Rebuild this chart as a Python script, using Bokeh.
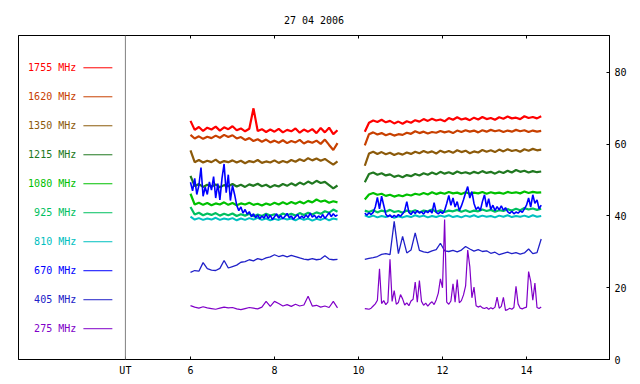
from bokeh.plotting import figure
from bokeh.models import Range1d, LinearAxis, FixedTicker, Span
from bokeh.core.properties import value
from bokeh.embed import file_html
from bokeh.resources import INLINE

# ---------------- data ----------------
title_text = "27 04 2006"
freq_labels = ["1755 MHz", "1620 MHz", "1350 MHz", "1215 MHz", "1080 MHz",
               "925 MHz", "810 MHz", "670 MHz", "405 MHz", "275 MHz"]
colors = ["#ff0000", "#c84000", "#8c5a0a", "#207820", "#00c000",
          "#00c060", "#00c0c0", "#0000ff", "#2020c8", "#8000c8"]
hour_ticks = [6, 8, 10, 12, 14]
level_ticks = [0, 20, 40, 60, 80]
ut_hour = 4.45

t_a = [6.0, 6.1, 6.2, 6.3, 6.4, 6.5, 6.6, 6.7, 6.8, 6.9, 7.0, 7.1, 7.2, 7.3, 7.4, 7.5, 7.6, 7.7,
       7.8, 7.9, 8.0, 8.1, 8.2, 8.3, 8.4, 8.5, 8.6, 8.7, 8.8, 8.9, 9.0, 9.1, 9.2, 9.3, 9.4, 9.5]
t_b = [10.15, 10.25, 10.35, 10.45, 10.55, 10.65, 10.75, 10.85, 10.95, 11.05, 11.15, 11.25,
       11.35, 11.45, 11.55, 11.65, 11.75, 11.85, 11.95, 12.05, 12.15, 12.25, 12.35, 12.45,
       12.55, 12.65, 12.75, 12.85, 12.95, 13.05, 13.15, 13.25, 13.35, 13.45, 13.55, 13.65,
       13.75, 13.85, 13.95, 14.05, 14.15, 14.25, 14.35]
t_af = [6.00, 6.05, 6.10, 6.15, 6.20, 6.25, 6.30, 6.35, 6.40, 6.45,
        6.50, 6.55, 6.60, 6.65, 6.70, 6.75, 6.80, 6.85, 6.90, 6.95,
        7.00, 7.05, 7.10, 7.15, 7.20, 7.25, 7.30, 7.35, 7.40, 7.45,
        7.50, 7.55, 7.60, 7.65, 7.70, 7.75, 7.80, 7.85, 7.90, 7.95,
        8.00, 8.05, 8.10, 8.15, 8.20, 8.25, 8.30, 8.35, 8.40, 8.45,
        8.50, 8.55, 8.60, 8.65, 8.70, 8.75, 8.80, 8.85, 8.90, 8.95,
        9.00, 9.05, 9.10, 9.15, 9.20, 9.25, 9.30, 9.35, 9.40, 9.45,
        9.50]
t_bf = [10.15, 10.20, 10.25, 10.30, 10.35, 10.40, 10.45, 10.50, 10.55, 10.60,
        10.65, 10.70, 10.75, 10.80, 10.85, 10.90, 10.95, 11.00, 11.05, 11.10,
        11.15, 11.20, 11.25, 11.30, 11.35, 11.40, 11.45, 11.50, 11.55, 11.60,
        11.65, 11.70, 11.75, 11.80, 11.85, 11.90, 11.95, 12.00, 12.05, 12.10,
        12.15, 12.20, 12.25, 12.30, 12.35, 12.40, 12.45, 12.50, 12.55, 12.60,
        12.65, 12.70, 12.75, 12.80, 12.85, 12.90, 12.95, 13.00, 13.05, 13.10,
        13.15, 13.20, 13.25, 13.30, 13.35, 13.40, 13.45, 13.50, 13.55, 13.60,
        13.65, 13.70, 13.75, 13.80, 13.85, 13.90, 13.95, 14.00, 14.05, 14.10,
        14.15, 14.20, 14.25, 14.30, 14.35]

f1755_a = [66.5, 64.0, 64.8, 63.7, 64.6, 64.1, 64.9, 63.8, 64.7, 64.2,
           65.0, 63.9, 64.4, 63.6, 64.3, 70.0, 63.7, 64.2, 63.4, 64.1,
           63.5, 64.3, 63.3, 64.0, 63.6, 64.4, 63.2, 64.1, 63.5, 64.2,
           63.1, 64.5, 63.3, 64.6, 62.8, 63.9]
f1755_b = [63.5, 66.0, 66.6, 66.2, 66.8, 66.1, 66.5, 65.8, 66.3, 65.7,
           66.4, 66.0, 66.7, 66.3, 67.0, 66.5, 67.1, 66.6, 66.9, 66.4,
           67.3, 66.8, 67.5, 66.9, 67.2, 66.7, 67.4, 66.9, 67.6, 67.0,
           67.3, 66.8, 67.5, 67.1, 67.7, 67.2, 67.4, 67.0, 67.8, 67.3,
           67.6, 67.2, 67.8]
f1620_a = [62.6, 61.6, 62.2, 61.5, 62.1, 61.7, 62.4, 61.8, 62.6, 62.0,
           62.5, 61.6, 62.0, 61.2, 61.7, 60.9, 61.4, 60.7, 61.3, 60.5,
           61.0, 60.4, 61.1, 60.3, 60.9, 60.5, 61.2, 60.2, 60.8, 60.4,
           61.0, 60.1, 61.3, 59.8, 58.4, 60.3]
f1620_b = [59.7, 62.8, 63.3, 62.7, 63.1, 62.5, 62.9, 62.4, 62.8, 62.6,
           63.2, 62.9, 63.6, 63.1, 63.5, 63.0, 63.4, 63.2, 63.7, 63.3,
           63.6, 63.1, 63.8, 63.4, 63.9, 63.5, 63.8, 63.3, 63.9, 63.5,
           64.0, 63.6, 63.9, 63.4, 63.8, 63.5, 64.0, 63.6, 63.9, 63.4,
           63.8, 63.5, 63.7]
f1350_a = [58.3, 55.0, 55.6, 54.9, 55.4, 55.0, 55.7, 54.8, 55.3, 55.0,
           55.5, 54.9, 55.4, 54.7, 55.3, 55.0, 55.6, 54.8, 55.2, 54.9,
           55.5, 54.8, 55.3, 54.9, 55.6, 55.1, 55.8, 55.3, 56.1, 55.5,
           56.0, 55.4, 55.9, 55.1, 54.3, 55.2]
f1350_b = [54.0, 57.4, 57.9, 57.3, 57.8, 57.2, 57.6, 57.0, 57.5, 57.1,
           57.7, 57.3, 57.9, 57.5, 58.1, 57.6, 58.0, 57.4, 58.2, 57.7,
           58.1, 57.6, 58.3, 57.8, 58.2, 57.5, 58.0, 57.7, 58.4, 57.9,
           58.3, 57.8, 58.5, 58.0, 58.6, 58.1, 58.4, 57.9, 58.6, 58.2,
           58.7, 58.3, 58.5]
f1215_a = [51.2, 48.3, 48.9, 48.1, 48.7, 48.2, 48.8, 48.0, 48.6, 48.3,
           48.9, 48.2, 48.7, 48.1, 48.8, 48.4, 49.0, 48.3, 48.7, 48.0,
           48.6, 48.2, 48.9, 48.4, 49.1, 48.5, 49.3, 48.8, 49.6, 49.0,
           49.8, 49.2, 49.5, 48.6, 47.7, 48.5]
f1215_b = [49.4, 51.7, 52.1, 51.5, 51.9, 51.3, 51.6, 50.9, 51.3, 50.8,
           51.4, 51.1, 51.7, 51.3, 51.9, 51.5, 52.1, 51.6, 52.3, 51.8,
           52.2, 51.7, 52.4, 51.9, 52.2, 51.8, 52.3, 51.9, 52.5, 52.0,
           52.3, 51.8, 52.4, 52.0, 52.6, 52.1, 52.8, 52.3, 52.6, 52.1,
           52.5, 52.2, 52.4]
f1080_a = [46.2, 43.2, 43.7, 43.1, 43.6, 43.0, 43.5, 43.2, 43.8, 43.1,
           43.6, 43.0, 43.5, 43.2, 43.7, 43.1, 43.4, 42.9, 43.5, 43.1,
           43.7, 43.2, 43.8, 43.3, 43.9, 43.4, 44.0, 43.5, 44.2, 43.8,
           44.6, 44.0, 44.3, 43.7, 44.1, 43.8]
f1080_b = [44.6, 46.0, 46.4, 45.9, 46.2, 45.6, 45.9, 45.4, 45.8, 45.5,
           46.0, 45.7, 46.2, 45.9, 46.4, 46.0, 46.6, 46.1, 46.5, 46.2,
           46.7, 46.3, 46.5, 46.1, 46.6, 46.2, 46.5, 46.3, 46.7, 46.2,
           46.6, 46.3, 46.5, 46.2, 46.7, 46.4, 46.6, 46.3, 46.8, 46.4,
           46.7, 46.5, 46.6]
f925_a = [42.5, 40.4, 40.9, 40.2, 40.7, 40.3, 40.8, 40.1, 40.6, 40.2,
          40.7, 40.0, 40.5, 40.1, 40.6, 39.9, 40.4, 40.0, 40.6, 40.1,
          40.5, 40.0, 40.7, 40.2, 40.6, 40.1, 40.8, 40.3, 40.9, 40.4,
          41.0, 40.6, 41.3, 40.9, 41.8, 41.2]
f925_b = [41.5, 41.1, 41.6, 41.0, 41.5, 41.2, 41.7, 41.1, 41.4, 40.9,
          41.5, 41.2, 41.6, 41.0, 41.5, 41.3, 41.8, 41.2, 41.6, 41.1,
          41.5, 41.3, 41.7, 41.2, 41.6, 41.1, 41.5, 41.3, 41.8, 41.4,
          41.7, 41.2, 41.6, 41.4, 41.9, 41.5, 42.0, 41.6, 42.2, 41.8,
          42.1, 41.7, 42.0]
f810_a = [39.8, 39.0, 39.4, 38.9, 39.3, 39.0, 39.5, 38.9, 39.3, 39.0,
          39.4, 38.8, 39.3, 38.9, 39.4, 39.0, 39.5, 38.9, 39.3, 38.8,
          39.2, 38.9, 39.4, 39.0, 39.3, 38.8, 39.4, 38.9, 39.3, 38.7,
          39.2, 38.9, 39.4, 38.8, 39.3, 39.0]
f810_b = [40.2, 39.7, 40.1, 39.6, 40.0, 39.7, 40.1, 39.5, 39.9, 39.6,
          40.0, 39.7, 40.2, 39.8, 40.1, 39.6, 40.0, 39.7, 40.1, 39.8,
          40.2, 39.7, 40.0, 39.6, 40.1, 39.8, 40.2, 39.7, 40.1, 39.8,
          40.0, 39.6, 40.1, 39.8, 40.2, 39.7, 40.0, 39.8, 40.1, 39.7,
          40.2, 39.8, 40.0]
f670_a = [49.4, 47.0, 50.5, 46.0, 48.5, 53.5, 45.5, 48.0, 46.0, 49.5,
          47.2, 51.0, 45.0, 49.0, 44.5, 50.5, 54.5, 46.5, 51.5, 44.3,
          48.5, 46.0, 43.0, 41.5, 42.5, 40.8, 41.8, 40.5, 41.2, 39.8,
          40.6, 39.5, 40.3, 39.2, 40.0, 39.4, 40.5, 39.3, 40.2, 39.0,
          39.8, 40.6, 39.4, 40.1, 39.2, 39.9, 40.7, 39.5, 40.0, 39.1,
          39.8, 40.4, 39.3, 40.0, 39.4, 40.3, 39.6, 40.8, 39.7, 40.2,
          39.4, 40.0, 39.5, 40.4, 39.3, 40.1, 40.9, 39.8, 40.6, 39.9,
          40.3]
f670_b = [40.8, 40.2, 40.9, 40.4, 41.0, 42.5, 45.2, 42.0, 45.5, 43.0,
          40.5, 39.8, 40.3, 39.6, 40.2, 39.7, 40.4, 39.9, 40.6, 41.5,
          44.0, 41.0, 40.4, 41.3, 40.7, 41.5, 40.8, 41.2, 40.5, 41.4,
          40.9, 41.6, 40.8, 43.7, 41.0, 40.6, 41.2, 40.7, 41.5, 43.5,
          45.7, 43.0, 45.0, 42.5, 44.0, 41.5, 42.8, 44.5, 46.5, 48.2,
          45.0, 46.8, 43.5, 41.8, 42.5, 41.5, 44.0, 45.9, 42.5, 44.8,
          41.8, 43.0, 41.5, 42.6, 41.7, 42.8, 41.6, 42.3, 41.2, 40.7,
          41.3, 40.6, 41.1, 40.8, 41.4, 41.0, 42.0, 43.0, 45.0, 42.5,
          45.9, 43.5, 44.5, 42.0, 43.0]
f405_a = [24.3, 24.8, 24.6, 27.0, 25.3, 24.9, 24.8, 25.4, 27.6, 25.5,
          25.9, 26.3, 27.1, 27.3, 27.8, 27.5, 28.1, 27.8, 28.3, 28.6,
          29.2, 28.7, 29.0, 28.6, 29.0, 28.7, 28.3, 28.0, 27.8, 28.1,
          27.8, 28.0, 28.9, 28.0, 27.8, 27.9]
f405_b = [27.9, 28.2, 28.4, 28.7, 29.3, 29.5, 29.2, 38.5, 29.5, 34.3,
          29.7, 30.5, 35.3, 30.4, 30.0, 29.8, 30.3, 30.6, 32.4, 30.3,
          30.1, 30.4, 30.0, 30.5, 31.5, 30.8, 30.2, 30.6, 30.1, 30.3,
          29.6, 29.9, 29.2, 29.6, 29.9, 29.5, 29.8, 29.4, 29.7, 30.8,
          29.5, 29.8, 33.6]
f275_a = [15.0, 14.6, 14.3, 14.7, 14.4, 14.2, 14.0, 14.3, 14.6, 14.4,
          14.5, 14.1, 13.9, 14.2, 14.5, 14.3, 14.1, 14.6, 16.2, 14.8,
          16.2, 15.6, 14.9, 15.3, 14.8, 15.4, 14.9, 15.2, 17.6, 14.9,
          15.1, 14.6, 14.9, 14.5, 16.2, 14.4]
f275_b = [14.2, 14.1, 14.0, 14.3, 14.9, 15.5, 16.5, 25.3, 15.6, 16.4,
          15.3, 16.0, 27.9, 16.2, 19.2, 15.4, 15.9, 18.1, 16.9, 15.2,
          15.8, 15.0, 16.3, 16.8, 21.6, 16.0, 22.0, 16.2, 15.1, 15.7,
          14.9, 15.6, 16.1, 15.3, 16.6, 18.5, 22.5, 20.0, 39.0, 16.0,
          15.4, 16.3, 21.1, 16.0, 22.3, 15.8, 16.4, 18.0, 20.5, 30.5,
          25.9, 17.2, 20.2, 15.0, 14.6, 14.9, 14.4, 14.2, 14.5, 14.0,
          14.4, 14.1, 14.6, 17.4, 14.3, 14.8, 17.3, 13.7, 13.9, 14.3,
          14.0, 14.5, 20.4, 15.5, 14.3, 14.1, 14.4, 14.6, 24.5, 21.8,
          16.5, 21.3, 14.5, 14.2, 14.6]

series = [
    ((t_a, f1755_a), (t_b, f1755_b)),
    ((t_a, f1620_a), (t_b, f1620_b)),
    ((t_a, f1350_a), (t_b, f1350_b)),
    ((t_a, f1215_a), (t_b, f1215_b)),
    ((t_a, f1080_a), (t_b, f1080_b)),
    ((t_a, f925_a), (t_b, f925_b)),
    ((t_a, f810_a), (t_b, f810_b)),
    ((t_af, f670_a), (t_bf, f670_b)),
    ((t_a, f405_a), (t_b, f405_b)),
    ((t_a, f275_a), (t_bf, f275_b)),
]
# trace stroke widths (style)
widths = [2.2, 2.2, 2.2, 2.2, 2.2, 2.2, 2.0, 1.6, 1.3, 1.2]

# ---------------- figure ----------------
FONT = "DejaVu Sans Mono"

p = figure(width=632, height=378, output_backend="svg", toolbar_location=None,
           x_range=Range1d(1.905, 15.976), y_range=Range1d(0, 90.3),
           x_axis_location=None, y_axis_location=None,
           min_border_left=18, min_border_right=23, min_border_top=35, min_border_bottom=19)
p.outline_line_color = "black"
p.outline_line_alpha = 1
p.outline_line_width = 1
for g in p.grid:
    g.visible = False
p.background_fill_color = "white"
p.border_fill_color = "white"

p.title.text = title_text
p.title.align = "center"
p.title.text_font = FONT
p.title.text_font_size = "10px"
p.title.text_font_style = "normal"
p.title.text_color = "black"
p.title.standoff = 19


def make_axis(ticks, overrides=None, show_labels=True):
    ax = LinearAxis(ticker=FixedTicker(ticks=ticks))
    ax.major_tick_in = 3
    ax.major_tick_out = 0
    ax.minor_tick_line_color = None
    ax.axis_line_color = "black"
    ax.major_tick_line_color = "black"
    ax.major_label_text_font = FONT
    ax.major_label_text_font_size = "10px"
    ax.major_label_text_color = "black"
    ax.major_label_standoff = 5 if show_labels else 0
    if overrides:
        ax.major_label_overrides = overrides
    return ax

p.add_layout(make_axis([ut_hour] + hour_ticks, overrides={ut_hour: "UT"}), "below")
p.add_layout(make_axis(hour_ticks, overrides={t: "" for t in hour_ticks}, show_labels=False), "above")
p.add_layout(make_axis(level_ticks), "right")

p.add_layout(Span(location=ut_hour, dimension="height", line_color="#808080", line_width=1))

# traces
for ((seg1, seg2), c), w in zip(zip(series, colors), widths):
    for tx, vy in (seg1, seg2):
        p.line(tx, vy, line_color=c, line_width=w)

# legend column
legend_y = [81.3 - 8.08 * i for i in range(len(freq_labels))]
p.text(x=[3.28] * len(freq_labels), y=legend_y, text=freq_labels, text_color=colors,
       text_align="right", text_baseline="middle", text_font=value(FONT),
       text_font_size="10px")
p.segment(x0=[3.45] * len(freq_labels), x1=[4.14] * len(freq_labels),
          y0=legend_y, y1=legend_y, line_color=colors, line_width=1)

open("out.html", "w").write(file_html(p, INLINE))
